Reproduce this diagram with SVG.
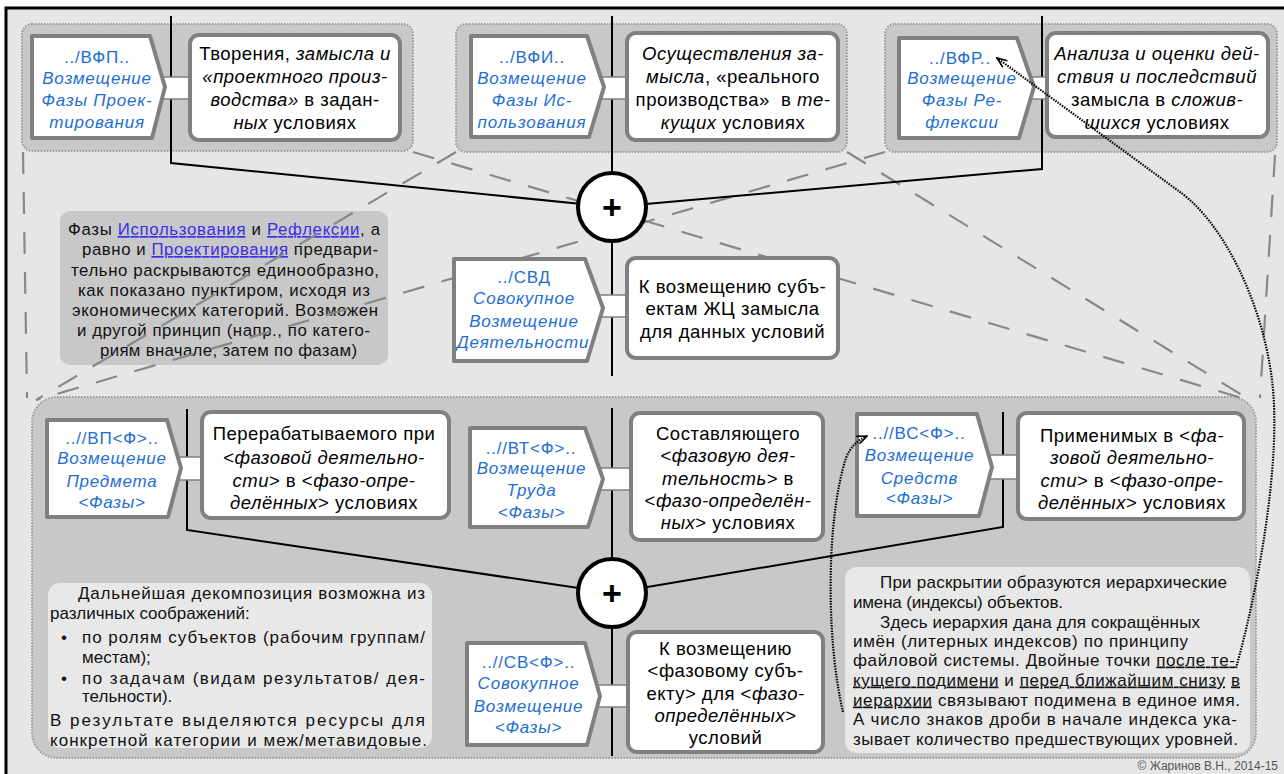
<svg xmlns="http://www.w3.org/2000/svg" width="1284" height="774" viewBox="0 0 1284 774">
<defs>
<style>
text{font-family:"Liberation Sans",Arial,sans-serif}
.grp{fill:#c8c8c8;stroke:#9a9a9a;stroke-width:2;stroke-dasharray:1.5 1.5}
.node{fill:#fff;stroke:#808080;stroke-width:4;stroke-linejoin:round}
.box{fill:#fff;stroke:#808080;stroke-width:4}
.cn{fill:#fff;stroke:#808080;stroke-width:1.5}
.lbl{font-size:17px;fill:#1e6ed2;text-anchor:middle;letter-spacing:0.8px}
.t{font-size:18.5px;fill:#000;text-anchor:middle;letter-spacing:0.5px}
.it{font-style:italic}
.n{font-size:17px;fill:#111}
.n1{font-size:16.8px;fill:#111;text-anchor:middle}
.lnk{fill:#3a2ee8;text-decoration:underline}
.u{text-decoration:underline}
.wire{stroke:#000;stroke-width:2;fill:none}
.dash{stroke:#888;stroke-width:2.2;stroke-dasharray:22 18;fill:none}
.dot{stroke:#000;stroke-width:2.2;stroke-dasharray:1.5 1.2;fill:none}
.plus{fill:#fff;stroke:#000;stroke-width:4}
.pt{font-size:34px;font-weight:bold;text-anchor:middle;fill:#000}
.note{fill:#e8e8e8}
</style>
<marker id="ah" viewBox="0 0 12 10" refX="11" refY="5" markerWidth="12" markerHeight="10" markerUnits="userSpaceOnUse" orient="auto">
<path d="M1,1 L11,5 L1,9" fill="none" stroke="#000" stroke-width="1.6"/>
</marker>
</defs>

<!-- frame -->
<rect x="6" y="8" width="1290" height="780" fill="#e6e6e6" stroke="#000" stroke-width="3"/>

<!-- top groups -->
<rect class="grp" x="22" y="24" width="391" height="127" rx="10"/>
<rect class="grp" x="456" y="24" width="391" height="128" rx="10"/>
<rect class="grp" x="885" y="24" width="392" height="128" rx="10"/>

<!-- note 1 -->
<g id="note1">
<rect x="60" y="211" width="328" height="154" rx="10" fill="#c8c8c8"/>
<text class="n1" x="224" y="235" textLength="312" lengthAdjust="spacing">Фазы <tspan class="lnk">Использования</tspan> и <tspan class="lnk">Рефлексии</tspan>, а</text>
<text class="n1" x="230" y="255" textLength="296" lengthAdjust="spacing">равно и <tspan class="lnk">Проектирования</tspan> предвари-</text>
<text class="n1" x="225" y="275.5" textLength="308" lengthAdjust="spacing">тельно раскрываются единообразно,</text>
<text class="n1" x="224" y="295.5" textLength="292" lengthAdjust="spacing">как показано пунктиром, исходя из</text>
<text class="n1" x="225" y="315.5" textLength="306" lengthAdjust="spacing">экономических категорий. Возможен</text>
<text class="n1" x="223.5" y="335.5" textLength="293" lengthAdjust="spacing">и другой принцип (напр., по катего-</text>
<text class="n1" x="228.5" y="355.5" textLength="257" lengthAdjust="spacing">риям вначале, затем по фазам)</text>
</g>

<!-- dashed funnel lines -->
<g id="dashes">
<path class="dash" d="M23,152 L27,398"/>
<path class="dash" d="M1275,155 L1260,398"/>
<path class="dash" d="M847,152 L1250,400"/>
<path class="dash" d="M413,152 L1245,399"/>
<path class="dash" d="M456,152 L36,400"/>
<path class="dash" d="M885,152 L36,400"/>
</g>

<!-- lower panel -->
<rect class="grp" x="32" y="397" width="1224" height="361" rx="25"/>

<!-- connectors -->
<g id="connectors">
<path class="wire" d="M171,16 L171,163 L612,207"/>
<path class="wire" d="M612,16 L612,376"/>
<path class="wire" d="M1042,16 L1042,169 L612,207"/>
<path class="wire" d="M187,409 L187,530 L612,593"/>
<path class="wire" d="M612,408 L612,756"/>
<path class="wire" d="M1003,412 L1003,527 L612,593"/>
</g>

<!-- top row -->
<g id="vfp">
<rect class="cn" x="160" y="77" width="32" height="22"/>
<polygon class="node" points="32,36 150,36 165,87 152,138 32,138"/>
<text class="lbl" x="97" y="63">../ВФП..</text>
<text class="lbl it" x="97" y="84">Возмещение</text>
<text class="lbl it" x="97" y="106">Фазы Проек-</text>
<text class="lbl it" x="97" y="128">тирования</text>
</g>
<g id="vfp-t">
<rect class="box" x="190" y="35" width="210" height="105" rx="9"/>
<text class="t" x="295" y="60">Творения, <tspan class="it">замысла и</tspan></text>
<text class="t it" x="295" y="83">«проектного произ-</text>
<text class="t" x="295" y="106"><tspan class="it">водства»</tspan> в задан-</text>
<text class="t" x="295" y="128.5"><tspan class="it">ных</tspan> условиях</text>
</g>

<g id="vfi">
<rect class="cn" x="600" y="77" width="30" height="22"/>
<polygon class="node" points="471,36 587,36 604,87 589,137 471,137"/>
<text class="lbl" x="532" y="63">../ВФИ..</text>
<text class="lbl it" x="532" y="84">Возмещение</text>
<text class="lbl it" x="532" y="106">Фазы Ис-</text>
<text class="lbl it" x="532" y="128">пользования</text>
</g>
<g id="vfi-t">
<rect class="box" x="627" y="33" width="211" height="107" rx="9"/>
<text class="t it" x="733" y="60">Осуществления за-</text>
<text class="t" x="733" y="83"><tspan class="it">мысла</tspan>, «реального</text>
<text class="t" x="733" y="106">производства»&#160; в <tspan class="it">те-</tspan></text>
<text class="t" x="733" y="128.5"><tspan class="it">кущих</tspan> условиях</text>
</g>

<g id="vfr">
<rect class="cn" x="1030" y="77" width="19" height="22"/>
<polygon class="node" points="899,38 1017,38 1034,87 1019,138 899,138"/>
<text class="lbl" x="960" y="64">../ВФР..</text>
<text class="lbl it" x="962" y="84">Возмещение</text>
<text class="lbl it" x="962" y="106">Фазы Ре-</text>
<text class="lbl it" x="962" y="128">флексии</text>
</g>
<g id="vfr-t">
<rect class="box" x="1047" y="33" width="221" height="104" rx="9"/>
<text class="t it" x="1157" y="60">Анализа и оценки дей-</text>
<text class="t it" x="1157" y="83">ствия и последствий</text>
<text class="t" x="1157" y="106">замысла в <tspan class="it">сложив-</tspan></text>
<text class="t" x="1157" y="128.5"><tspan class="it">шихся</tspan> условиях</text>
</g>

<g id="plus1">
<circle class="plus" cx="612" cy="207" r="34"/>
<text class="pt" x="612" y="219">+</text>
</g>

<g id="svd">
<rect class="cn" x="598" y="295" width="32" height="22"/>
<polygon class="node" points="454,259 585,259 603,308 587,361 454,361"/>
<text class="lbl" x="524" y="283">../СВД</text>
<text class="lbl it" x="524" y="304">Совокупное</text>
<text class="lbl it" x="524" y="327">Возмещение</text>
<text class="lbl it" x="523" y="348">Деятельности</text>
</g>
<g id="svd-t">
<rect class="box" x="627" y="258" width="211" height="100" rx="9"/>
<text class="t" x="732.5" y="293">К возмещению субъ-</text>
<text class="t" x="732.5" y="315">ектам ЖЦ замысла</text>
<text class="t" x="732.5" y="338">для данных условий</text>
</g>

<!-- lower row -->
<g id="vp">
<rect class="cn" x="176" y="457" width="29" height="23"/>
<polygon class="node" points="47,420 167,420 181,468 168,517 47,517"/>
<text class="lbl" x="112" y="444">..//ВП&lt;Ф&gt;..</text>
<text class="lbl it" x="112" y="464">Возмещение</text>
<text class="lbl it" x="112" y="487">Предмета</text>
<text class="lbl it" x="112" y="508">&lt;Фазы&gt;</text>
</g>
<g id="vp-t">
<rect class="box" x="202" y="412" width="247" height="106" rx="9"/>
<text class="t" x="324" y="439.5">Перерабатываемого при</text>
<text class="t" x="324" y="463.5">&lt;<tspan class="it">фазовой деятельно-</tspan></text>
<text class="t" x="324" y="486.5"><tspan class="it">сти</tspan>&gt; в &lt;<tspan class="it">фазо-опре-</tspan></text>
<text class="t" x="324" y="508.5"><tspan class="it">делённых</tspan>&gt; условиях</text>
</g>

<g id="vt">
<rect class="cn" x="598" y="468" width="35" height="22"/>
<polygon class="node" points="470,428 585,428 603,479 588,527 470,527"/>
<text class="lbl" x="531" y="454">..//ВТ&lt;Ф&gt;..</text>
<text class="lbl it" x="531.5" y="474">Возмещение</text>
<text class="lbl it" x="531.5" y="496">Труда</text>
<text class="lbl it" x="531.5" y="518">&lt;Фазы&gt;</text>
</g>
<g id="vt-t">
<rect class="box" x="631" y="413" width="192" height="127" rx="9"/>
<text class="t" x="728" y="439.5">Составляющего</text>
<text class="t" x="728" y="461.5">&lt;<tspan class="it">фазовую дея-</tspan></text>
<text class="t" x="728" y="484.5"><tspan class="it">тельность</tspan>&gt; в</text>
<text class="t" x="728" y="506.5">&lt;<tspan class="it">фазо-определён-</tspan></text>
<text class="t" x="728" y="528.5"><tspan class="it">ных</tspan>&gt; условиях</text>
</g>

<g id="vs">
<rect class="cn" x="988" y="455" width="32" height="24"/>
<polygon class="node" points="857,414 977,414 992,467 979,516 857,516"/>
<text class="lbl" x="919" y="439">..//ВС&lt;Ф&gt;..</text>
<text class="lbl it" x="919.5" y="461">Возмещение</text>
<text class="lbl it" x="919.5" y="484">Средств</text>
<text class="lbl it" x="919.5" y="504">&lt;Фазы&gt;</text>
</g>
<g id="vs-t">
<rect class="box" x="1018" y="413" width="226" height="106" rx="9"/>
<text class="t" x="1132" y="441.5">Применимых в &lt;<tspan class="it">фа-</tspan></text>
<text class="t it" x="1132" y="463.5">зовой деятельно-</text>
<text class="t" x="1132" y="486.5"><tspan class="it">сти</tspan>&gt; в &lt;<tspan class="it">фазо-опре-</tspan></text>
<text class="t" x="1132" y="508.5"><tspan class="it">делённых</tspan>&gt; условиях</text>
</g>

<g id="plus2">
<circle class="plus" cx="612" cy="593" r="34"/>
<text class="pt" x="612" y="605">+</text>
</g>

<g id="sv">
<rect class="cn" x="596" y="685" width="34" height="22"/>
<polygon class="node" points="467,643 585,643 600,696 587,745 467,745"/>
<text class="lbl" x="528.5" y="668">..//СВ&lt;Ф&gt;..</text>
<text class="lbl it" x="528.5" y="689">Совокупное</text>
<text class="lbl it" x="528.5" y="712">Возмещение</text>
<text class="lbl it" x="528.5" y="733">&lt;Фазы&gt;</text>
</g>
<g id="sv-t">
<rect class="box" x="628" y="632" width="195" height="120" rx="9"/>
<text class="t" x="725.5" y="654.5">К возмещению</text>
<text class="t" x="725.5" y="676.5">&lt;фазовому субъ-</text>
<text class="t" x="725.5" y="699.5">екту&gt; для &lt;<tspan class="it">фазо-</tspan></text>
<text class="t" x="725.5" y="721.5"><tspan class="it">определённых</tspan>&gt;</text>
<text class="t" x="725.5" y="743.5">условий</text>
</g>

<!-- note 2 -->
<g id="note2">
<rect class="note" x="48" y="583" width="384" height="165" rx="12"/>
<text class="n" x="78" y="599" textLength="347" lengthAdjust="spacing">Дальнейшая декомпозиция возможна из</text>
<text class="n" x="50" y="618.5">различных соображений:</text>
<text class="n" x="61" y="642.5">•</text>
<text class="n" x="82" y="642.5" textLength="343" lengthAdjust="spacing">по ролям субъектов (рабочим группам/</text>
<text class="n" x="82" y="662.5">местам);</text>
<text class="n" x="61" y="683.5">•</text>
<text class="n" x="82" y="683.5" textLength="343" lengthAdjust="spacing">по задачам (видам результатов/ дея-</text>
<text class="n" x="82" y="702">тельности).</text>
<text class="n" x="50" y="726" textLength="375" lengthAdjust="spacing">В результате выделяются ресурсы для</text>
<text class="n" x="50" y="745.5" textLength="377" lengthAdjust="spacing">конкретной категории и меж/метавидовые.</text>
</g>

<!-- note 3 -->
<g id="note3">
<rect class="note" x="845" y="567" width="405" height="186" rx="12"/>
<text class="n" x="880" y="587.5" textLength="347" lengthAdjust="spacing">При раскрытии образуются иерархические</text>
<text class="n" x="853" y="607.5" textLength="210" lengthAdjust="spacing">имена (индексы) объектов.</text>
<text class="n" x="880" y="627.5" textLength="320" lengthAdjust="spacing">Здесь иерархия дана для сокращённых</text>
<text class="n" x="853" y="646.5" textLength="335" lengthAdjust="spacing">имён (литерных индексов) по принципу</text>
<text class="n" x="853" y="665.5" textLength="382" lengthAdjust="spacing">файловой системы. Двойные точки <tspan class="u">после те-</tspan></text>
<text class="n" x="853" y="685.5" textLength="387" lengthAdjust="spacing"><tspan class="u">кущего подимени</tspan> и <tspan class="u">перед ближайшим снизу</tspan> <tspan class="u">в</tspan></text>
<text class="n" x="853" y="705.5" textLength="387" lengthAdjust="spacing"><tspan class="u">иерархии</tspan> связывают подимена в единое имя.</text>
<text class="n" x="853" y="724.5" textLength="384" lengthAdjust="spacing">А число знаков дроби в начале индекса ука-</text>
<text class="n" x="853" y="744.5" textLength="385" lengthAdjust="spacing">зывает количество предшествующих уровней.</text>
</g>

<!-- dotted reference arrows -->
<g id="refs">
<path class="dot" marker-end="url(#ah)" d="M1236,668 C1258,590 1282,460 1272,380 C1262,300 1222,222 1180,192 L997,58"/>
<path class="dot" marker-end="url(#ah)" d="M843,712 C826,640 826,520 846,458 C851,446 858,440 867,436"/>
</g>

<text x="1278" y="770" font-size="12" fill="#555" text-anchor="end">© Жаринов В.Н., 2014-15</text>
</svg>
